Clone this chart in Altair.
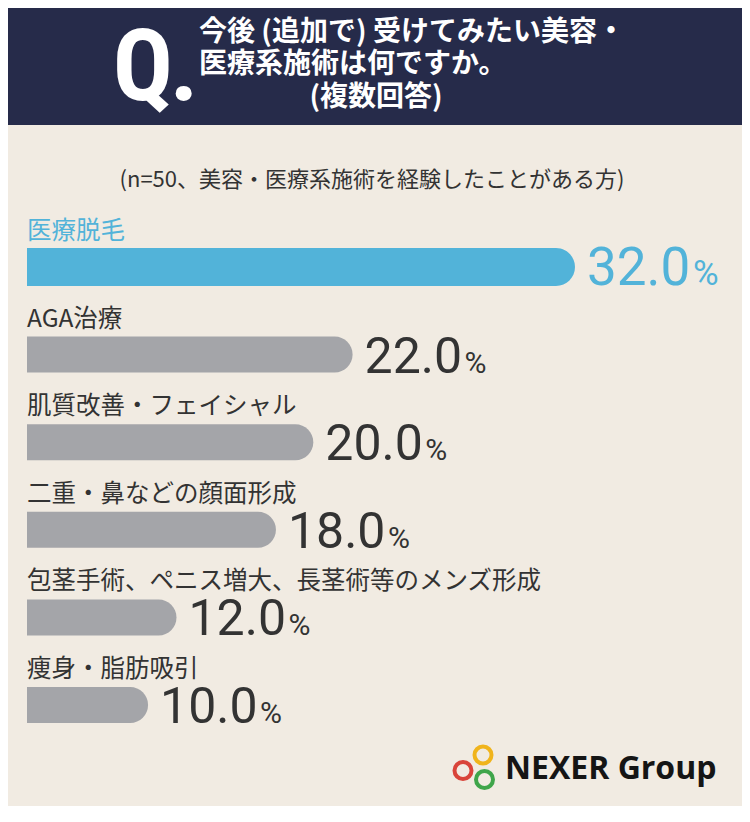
import altair as alt
import pandas as pd

# ---------------- data ----------------
categories = [
    "医療脱毛",
    "AGA治療",
    "肌質改善・フェイシャル",
    "二重・鼻などの顔面形成",
    "包茎手術、ペニス増大、長茎術等のメンズ形成",
    "痩身・脂肪吸引",
]
values = [32.0, 22.0, 20.0, 18.0, 12.0, 10.0]
highlight = ["top", "other", "other", "other", "other", "other"]

title_lines = ["今後 (追加で) 受けてみたい美容・", "医療系施術は何ですか。", "(複数回答)"]
q_mark = "Q"
subtitle = "(n=50、美容・医療系施術を経験したことがある方)"
brand = "NEXER Group"

# ---------------- styles ----------------
W, H = 734, 798
BG = "#f1ebe2"
NAVY = "#262b4a"
BLUE = "#52b3d9"
GREY = "#a4a5a9"
DARK = "#333333"
JP = "Noto Sans CJK JP"
NUM = "Roboto"
QFONT = "Liberation Sans Narrow, Roboto Condensed, Roboto, sans-serif"

df = pd.DataFrame({
    "cat": categories,
    "val": values,
    "hl": highlight,
    "vtxt": [f"{v:.1f}" for v in values],
})

X = alt.X("val:Q", axis=None, stack=None,
          scale=alt.Scale(type="pow", exponent=1.5, domain=[0, 32],
                          range=[49.7, 567], nice=False, zero=False))
Y = alt.Y("cat:N", axis=None, sort=categories,
          scale=alt.Scale(type="point", domain=categories, range=[259, 697], padding=0))


def group(flag, bar_color, txt_color, thick, fs, pfs, pdx):
    base = alt.Chart(df).transform_filter(alt.datum.hl == flag)
    bar = base.mark_bar(color=bar_color, size=thick,
                        cornerRadiusTopRight=thick / 2,
                        cornerRadiusBottomRight=thick / 2).encode(
        x=X, x2=alt.value(19), y=Y)
    num = base.mark_text(align="left", baseline="alphabetic", dx=12, dy=18,
                         font=NUM, fontSize=fs, color=txt_color).encode(
        x=X, y=Y, text="vtxt:N")
    pct = base.mark_text(align="left", baseline="alphabetic", dx=pdx, dy=18,
                         font=NUM, fontSize=pfs, color=txt_color, text="%").encode(
        x=X, y=Y)
    return [bar, num, pct]


top_layers = group("top", BLUE, BLUE, 38, 53, 35, 118)
other_layers = group("other", GREY, DARK, 36, 50, 30, 112)

labels = alt.Chart(df).mark_text(align="left", baseline="middle", dy=-35,
                                 font=JP, fontSize=24.5).encode(
    x=alt.value(19), y=Y, text="cat:N",
    color=alt.condition(alt.datum.hl == "top", alt.value(BLUE), alt.value(DARK)))

# ---------------- header & decorations ----------------
one = pd.DataFrame({"k": [0]})
header = alt.Chart(one).mark_rect(color=NAVY).encode(
    x=alt.value(0), x2=alt.value(W), y=alt.value(0), y2=alt.value(117))

q_text = alt.Chart(one).mark_text(
    text=q_mark, font=QFONT, fontWeight="bold", fontSize=100, color="white",
    align="center", baseline="alphabetic").encode(x=alt.value(135), y=alt.value(92))
q_dot = alt.Chart(one).mark_text(
    text=".", font=QFONT, fontWeight="bold", fontSize=100, color="white",
    align="center", baseline="alphabetic").encode(x=alt.value(176), y=alt.value(92))


def title_line(txt, x, y, align):
    return alt.Chart(one).mark_text(text=txt, font=JP, fontWeight="bold", fontSize=28,
                                    color="white", align=align, baseline="middle").encode(
        x=alt.value(x), y=alt.value(y))


t1 = title_line(title_lines[0], 191, 25, "left")
t2 = title_line(title_lines[1], 191, 57, "left")
t3 = title_line(title_lines[2], 368, 90, "center")

sub = alt.Chart(one).mark_text(text=subtitle, font=JP, fontSize=22, color=DARK,
                               align="center", baseline="middle").encode(
    x=alt.value(364), y=alt.value(172))


def ring(color, x, y):
    return alt.Chart(one).mark_point(shape="circle", filled=False, size=289, strokeWidth=4,
                                     color=color, opacity=1).encode(
        x=alt.value(x), y=alt.value(y))


ring_r = ring("#d9443a", 455, 762.5)
ring_y = ring("#f0b41c", 475, 747)
ring_g = ring("#3fa54a", 476.5, 771.5)
brand_t = alt.Chart(one).mark_text(text=brand, font="Open Sans", fontWeight="bold",
                                   fontSize=32, color="#151515", align="left",
                                   baseline="alphabetic").encode(
    x=alt.value(497), y=alt.value(771))

chart = alt.layer(
    header, q_text, q_dot, t1, t2, t3, sub,
    *top_layers, *other_layers, labels,
    ring_r, ring_y, ring_g, brand_t,
).properties(
    width=W, height=H, padding=0, background=BG,
    autosize=alt.AutoSizeParams(type="none"),
).configure_view(strokeWidth=0)

chart.save("out.html", embed_options={"renderer": "svg", "actions": False})
